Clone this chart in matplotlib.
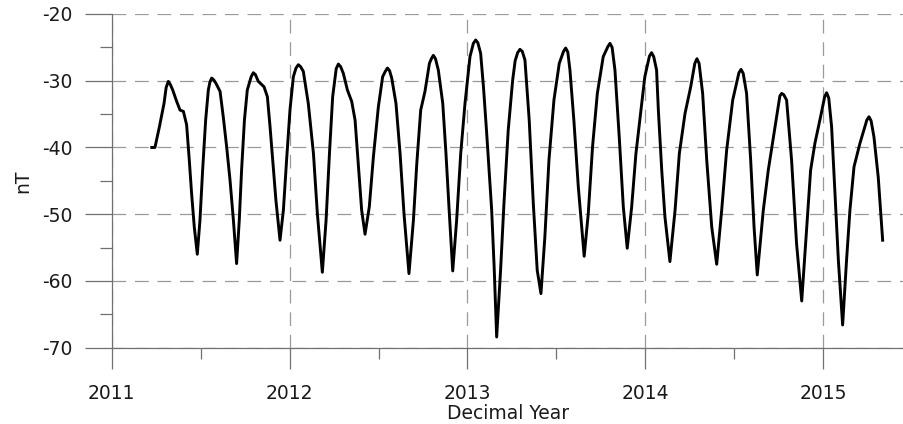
import matplotlib
matplotlib.use("Agg")
import matplotlib.pyplot as plt
from matplotlib.ticker import MultipleLocator
import numpy as np

plt.rcParams['font.family'] = ['DejaVu Sans']
plt.rcParams['axes.unicode_minus'] = False

# values (decimal year, nT)
year = [
    2011.225, 2011.243, 2011.268, 2011.294, 2011.318, 2011.343, 2011.365, 2011.384,
    2011.403, 2011.421, 2011.436, 2011.449, 2011.464, 2011.481, 2011.496, 2011.511,
    2011.528, 2011.543, 2011.562, 2011.586, 2011.609, 2011.627, 2011.646, 2011.665,
    2011.684, 2011.702, 2011.717, 2011.730, 2011.746, 2011.762, 2011.796, 2011.824,
    2011.856, 2011.875, 2011.890, 2011.905, 2011.923, 2011.946, 2011.965, 2011.983,
    2012.002, 2012.021, 2012.049, 2012.077, 2012.105, 2012.134, 2012.156, 2012.184,
    2012.205, 2012.224, 2012.242, 2012.274, 2012.302, 2012.325, 2012.349, 2012.368,
    2012.387, 2012.405, 2012.424, 2012.448, 2012.471, 2012.499, 2012.523, 2012.550,
    2012.574, 2012.598, 2012.621, 2012.643, 2012.671, 2012.696, 2012.715, 2012.737,
    2012.761, 2012.786, 2012.808, 2012.836, 2012.861, 2012.879, 2012.898, 2012.917,
    2012.939, 2012.962, 2012.986, 2013.014, 2013.046, 2013.074, 2013.090, 2013.108,
    2013.136, 2013.150, 2013.164, 2013.186, 2013.205, 2013.229, 2013.254, 2013.295,
    2013.323, 2013.347, 2013.370, 2013.392, 2013.413, 2013.435, 2013.458, 2013.486,
    2013.516, 2013.552, 2013.576, 2013.598, 2013.623, 2013.656, 2013.679, 2013.703,
    2013.730, 2013.763, 2013.801, 2013.829, 2013.853, 2013.876, 2013.898, 2013.923,
    2013.947, 2013.969, 2013.997, 2014.035, 2014.063, 2014.073, 2014.092, 2014.110,
    2014.138, 2014.167, 2014.191, 2014.223, 2014.255, 2014.290, 2014.322, 2014.345,
    2014.373, 2014.401, 2014.429, 2014.457, 2014.491, 2014.538, 2014.569, 2014.592,
    2014.611, 2014.629, 2014.663, 2014.691, 2014.729, 2014.766, 2014.794, 2014.822,
    2014.850, 2014.879, 2014.907, 2014.929, 2014.953, 2014.985, 2015.019, 2015.047,
    2015.066, 2015.085, 2015.109, 2015.131, 2015.150, 2015.173, 2015.206, 2015.257,
    2015.285, 2015.309, 2015.334,
]
field_nT = [
    -40.0, -40.0, -36.9, -33.4, -30.1, -31.4, -33.1, -34.4,
    -34.6, -36.6, -41.9, -46.9, -51.9, -56.0, -50.9, -43.4,
    -35.9, -31.4, -29.6, -30.4, -31.6, -35.4, -39.9, -44.9,
    -50.9, -57.4, -50.9, -43.4, -35.9, -31.4, -28.8, -30.1,
    -30.9, -32.4, -36.9, -41.9, -47.9, -53.9, -49.4, -41.9,
    -34.4, -29.4, -27.6, -28.6, -33.4, -40.9, -49.9, -58.7,
    -50.9, -40.9, -32.4, -27.5, -28.9, -31.4, -33.1, -35.9,
    -42.9, -49.4, -53.0, -48.9, -41.4, -33.9, -29.4, -28.1,
    -29.6, -33.4, -40.9, -49.9, -58.9, -50.9, -42.4, -34.4,
    -31.6, -27.4, -26.2, -28.4, -33.4, -40.9, -49.9, -58.5,
    -50.9, -40.9, -33.4, -26.4, -23.9, -25.9, -31.0, -37.9,
    -49.4, -58.0, -68.4, -58.4, -48.4, -37.4, -29.9, -25.3,
    -26.9, -35.9, -48.4, -58.4, -61.9, -53.4, -41.9, -32.9,
    -27.4, -25.1, -28.4, -35.9, -45.9, -56.3, -49.9, -39.9,
    -31.9, -26.4, -24.4, -28.4, -38.4, -48.9, -55.1, -48.9,
    -40.9, -35.9, -29.4, -25.8, -28.4, -34.4, -43.4, -50.4,
    -57.1, -49.4, -40.9, -34.9, -30.9, -26.7, -31.9, -41.9,
    -51.9, -57.5, -49.4, -40.4, -32.9, -28.3, -31.9, -41.9,
    -51.9, -59.1, -49.4, -43.4, -36.9, -31.9, -32.9, -41.9,
    -54.4, -63.0, -51.9, -43.4, -39.4, -35.4, -31.8, -36.9,
    -46.9, -56.9, -66.6, -56.9, -49.4, -42.9, -39.4, -35.4,
    -38.4, -44.4, -53.9,
]

# extra readings around the rounded crests
crest_year = [
    2011.306, 2011.330, 2011.552, 2011.574, 2011.784, 2011.808, 2012.036, 2012.062,
    2012.262, 2012.287, 2012.538, 2012.562, 2012.797, 2012.820, 2013.033, 2013.058,
    2013.268, 2013.282, 2013.308, 2013.540, 2013.564, 2013.789, 2013.813, 2014.023,
    2014.047, 2014.278, 2014.302, 2014.526, 2014.550, 2014.756, 2014.778, 2015.008,
    2015.031, 2015.245, 2015.269,
]
crest_nT = [
    -31.0, -30.6, -30.2, -29.9, -29.4, -29.1, -28.1, -27.9,
    -28.2, -27.9, -28.6, -28.5, -26.7, -26.7, -24.4, -24.3,
    -27.0, -25.8, -25.6, -25.6, -25.7, -24.9, -25.0, -26.3,
    -26.4, -27.4, -27.4, -28.8, -28.9, -32.3, -32.1, -32.4,
    -32.6, -35.9, -36.0,
]

x_limits = (2011, 2015.454)
y_limits = (-70, -20)

all_year = np.array(year + crest_year)
all_nT = np.array(field_nT + crest_nT)
order = np.argsort(all_year)

fig = plt.figure(figsize=(9.04, 4.24), dpi=100)
ax = fig.add_axes([0.1236, 0.180, 0.8764, 0.787])

ax.plot(all_year[order], all_nT[order], color='black', linewidth=2.1,
        solid_joinstyle='round')

ax.set_xlim(*x_limits)
ax.set_ylim(*y_limits)

ax.xaxis.set_major_locator(MultipleLocator(1))
ax.xaxis.set_minor_locator(MultipleLocator(0.5))
ax.yaxis.set_major_locator(MultipleLocator(10))
ax.yaxis.set_minor_locator(MultipleLocator(5))

for side in ['top', 'right']:
    ax.spines[side].set_visible(False)
for side in ['left', 'bottom']:
    ax.spines[side].set_color('#707070')
    ax.spines[side].set_linewidth(0.9)

ax.grid(True, which='major', color='#9a9a9a', linestyle=(0, (11, 7)), linewidth=0.9)

ax.tick_params(axis='y', which='major', length=19.5, width=0.9, color='#707070',
               pad=8.5, labelsize=13.5, labelcolor='#1a1a1a')
ax.tick_params(axis='y', which='minor', length=9, width=0.9, color='#707070')
ax.tick_params(axis='x', which='major', length=15, width=0.9, color='#707070',
               pad=11.5, labelsize=13.5, labelcolor='#1a1a1a')
ax.tick_params(axis='x', which='minor', length=8, width=0.9, color='#707070')

ax.set_xlabel('Decimal Year', fontsize=13.5, color='#1a1a1a', labelpad=0.5)
ax.set_ylabel('nT', fontsize=13.5, color='#1a1a1a', labelpad=7)

fig.savefig('out.png', dpi=100)
